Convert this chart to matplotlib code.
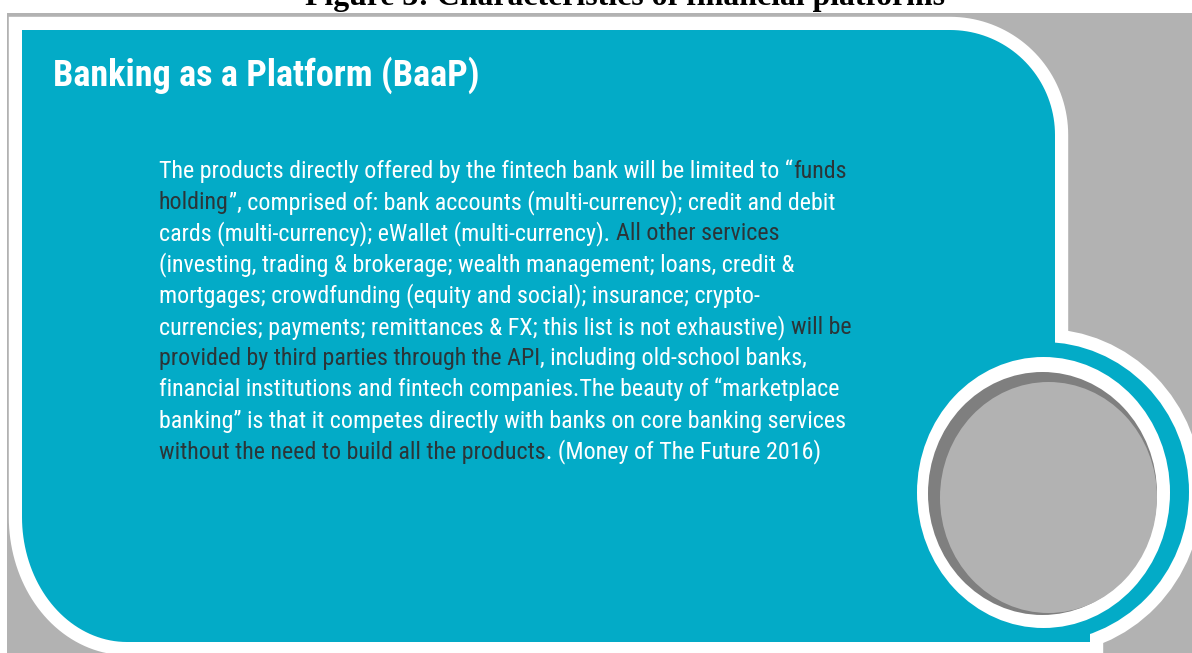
import numpy as np
import matplotlib
matplotlib.use('Agg')
import matplotlib.pyplot as plt
from matplotlib.path import Path
from matplotlib.patches import PathPatch, Ellipse, Rectangle

# texts
caption = "Figure 3: Characteristics of financial platforms"
title = "Banking as a Platform (BaaP)"

# each line of the paragraph: list of (text, dark?) pieces
body_lines = [
    [("The products directly offered by the fintech bank will be limited to \u201c", False), ("funds", True)],
    [("holding", True), ("\u201d, comprised of: bank accounts (multi-currency); credit and debit", False)],
    [("cards (multi-currency); eWallet (multi-currency). ", False), ("All other services", True)],
    [("(investing, trading & brokerage; wealth management; loans, credit &", False)],
    [("mortgages; crowdfunding (equity and social); insurance; crypto-", False)],
    [("currencies; payments; remittances & FX; this list is not exhaustive) ", False), ("will be", True)],
    [("provided by third parties through the API", True), (", including old-school banks,", False)],
    [("financial institutions and fintech companies.The beauty of \u201cmarketplace", False)],
    [("banking\u201d is that it competes directly with banks on core banking services", False)],
    [("without the need to build all the products", True), (". (Money of The Future 2016)", False)],
]

teal = '#03abc7'
grey = '#b2b2b2'
dark_grey = '#7f7f7f'
ink = '#2b3538'
sans = ['Roboto Condensed', 'Liberation Sans Narrow', 'Roboto', 'DejaVu Sans']

W, H = 1192, 653
fig = plt.figure(figsize=(W / 100, H / 100), dpi=100)
ax = fig.add_axes([0, 0, 1, 1])
ax.set_xlim(0, W)
ax.set_ylim(H, 0)
ax.axis('off')
r = fig.canvas.get_renderer()


def arc(cx, cy, rx, ry, a0, a1, n=40):
    a = np.radians(np.linspace(a0, a1, n))
    return list(zip(cx + rx * np.cos(a), cy + ry * np.sin(a)))


# grey backdrop
ax.add_patch(Rectangle((7, 13), W, H, fc=grey, ec='none', zorder=1))

# panel outline: square top-left, rounded top-right and bottom-left
pts = [(22, 30)] + arc(950, 135, 105, 105, -90, 0) + [(1055, 450), (1090, 450), (1090, 642)]
pts += arc(127, 517, 105, 125, 90, 180)
pts.append(pts[0])
codes = [Path.MOVETO] + [Path.LINETO] * (len(pts) - 2) + [Path.CLOSEPOLY]
panel = Path(pts, codes)

ctr = (1043, 492)
ax.add_patch(PathPatch(panel, fc='white', ec='white', lw=19, joinstyle='miter', zorder=2))
ax.add_patch(Ellipse(ctr, 292, 300, fc='white', ec='white', lw=19, zorder=2))
ax.add_patch(PathPatch(panel, fc=teal, ec='none', zorder=3))
ax.add_patch(Ellipse(ctr, 292, 300, fc=teal, ec='none', zorder=3))

# the grey button
ax.add_patch(Ellipse((1043.5, 492.5), 253, 271, fc='white', ec='none', zorder=4))
ax.add_patch(Ellipse((1042.5, 493.5), 229, 243, fc=dark_grey, ec='none', zorder=5))
ax.add_patch(Ellipse((1048.5, 497.5), 217, 231, fc=grey, ec='none', zorder=6))


def fit(t, target):
    bb = t.get_window_extent(r)
    t.set_fontsize(t.get_fontsize() * target / bb.width)
    return t.get_fontsize()


def width(s, fs):
    # width of a string incl. edge spaces, measured between two bars
    t1 = ax.text(0, 0, '|' + s + '|', fontsize=fs, family=sans)
    t2 = ax.text(0, 0, '||', fontsize=fs, family=sans)
    w = t1.get_window_extent(r).width - t2.get_window_extent(r).width
    t1.remove()
    t2.remove()
    return w


# caption cut by the top edge
cap = ax.text(625, 5, caption, ha='center', va='baseline', fontsize=19,
              family=['Liberation Serif', 'DejaVu Serif'], fontweight='bold',
              color='black', zorder=0)
fit(cap, 640)

t = ax.text(53, 86, title, va='baseline', fontsize=22, fontweight='bold',
            family=sans, color='white', zorder=10)
fit(t, 425)

# paragraph font size from the longest all-white line
probe = ax.text(159, 0, body_lines[8][0][0], fontsize=15, family=sans)
fs = fit(probe, 690)
probe.remove()

y0, pitch = 178, 31.2
for i, line in enumerate(body_lines):
    y = y0 + i * pitch
    x = 159
    for s, dark in line:
        ax.text(x, y, s, va='baseline', fontsize=fs, family=sans,
                color=ink if dark else 'white', zorder=10)
        x += width(s, fs)

fig.savefig('out.png', dpi=100, facecolor='white')
